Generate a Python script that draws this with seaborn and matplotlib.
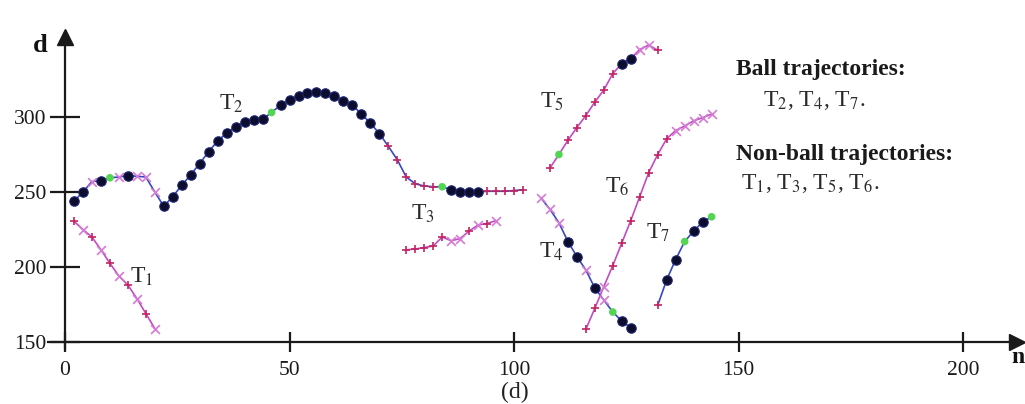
import matplotlib
matplotlib.use("Agg")
import matplotlib.pyplot as plt
import pandas as pd
import seaborn as sns

# Frame index n and distance d for every trajectory, plus a marker code per frame:
# o = ball candidate, x = rejected candidate, + = predicted position, g = recovered
t1_n = [2, 4, 6, 8, 10, 12, 14, 16, 18, 20]
t1_d = [230.5, 225, 220, 211.5, 202.5, 194, 188, 179, 169, 159]
t1_m = "+x+x+x+x+x"

t2_n = list(range(2, 103, 2))
t2_d = [244, 250, 257, 257.5, 259.5, 260, 261, 260.5, 260, 250,
        240.5, 247, 254.5, 261.5, 269, 277, 284, 289.5, 293.5, 297, 298, 298.5,
        303,
        308, 311.5, 314, 316, 316.5, 316, 314, 311, 308, 302, 296, 289,
        280.5, 271.5, 260, 255.5, 254, 253.5,
        253.5,
        251.5, 250, 250, 250,
        250.5, 250.5, 250.5, 251, 251.5]
t2_m = "ooxogxoxxx" + "o" * 12 + "g" + "o" * 12 + "+" * 6 + "g" + "o" * 4 + "+" * 5

t3_n = list(range(76, 97, 2))
t3_d = [211.5, 212, 213, 214, 220, 217.5, 219, 224, 228, 229, 231]
t3_m = "+++++xx+x+x"

t4_n = list(range(106, 127, 2))
t4_d = [246, 238.5, 229.5, 217, 207, 198, 186, 178, 170, 164, 159.5]
t4_m = "xxxooxoxgoo"

t5_n = list(range(108, 133, 2))
t5_d = [266, 275, 284.5, 293, 301, 310, 318, 329, 335.5, 339, 345, 348, 344.5]
t5_m = "+g++++++ooxx+"

t6_n = list(range(116, 145, 2))
t6_d = [158.5, 172.5, 187, 201, 216, 231, 247, 263, 275, 285.5, 291, 294, 297.5, 299.5, 302]
t6_m = "++x+++++++xxxxx"

t7_n = list(range(132, 145, 2))
t7_d = [174.5, 191.5, 205, 217, 224, 230, 233.5]
t7_m = "+oogoog"

ball = ["T2", "T4", "T7"]
label_pos = {"T1": (17.1, 193.5), "T2": (37.0, 309), "T3": (79.8, 235.5),
             "T4": (108.4, 210), "T5": (108.4, 310), "T6": (122.9, 253.5),
             "T7": (132.1, 222.5)}

x_ticks = [0, 50, 100, 150, 200]
y_ticks = [150, 200, 250, 300]

tracks = {
    "T1": (t1_n, t1_d, t1_m), "T2": (t2_n, t2_d, t2_m), "T3": (t3_n, t3_d, t3_m),
    "T4": (t4_n, t4_d, t4_m), "T5": (t5_n, t5_d, t5_m), "T6": (t6_n, t6_d, t6_m),
    "T7": (t7_n, t7_d, t7_m),
}
rows = []
for name, (ns, ds, ms) in tracks.items():
    for n, d, m in zip(ns, ds, ms):
        rows.append({"track": name, "n": n, "d": d, "mark": m,
                     "kind": "ball" if name in ball else "nonball"})
df = pd.DataFrame(rows)

sns.set_theme(style="white")
plt.rcParams["font.family"] = ["Liberation Serif", "DejaVu Serif"]
plt.rcParams["mathtext.fontset"] = "stix"

fig = plt.figure(figsize=(10.25, 4.04), dpi=100)
ax = fig.add_axes([0, 0, 1, 1])
ax.set_xlim(-14.48, 213.8)
ax.set_ylim(108.7, 378)

line_colors = {"ball": "#3848c0", "nonball": "#c04cc4"}
for name in tracks:
    sub = df[df["track"] == name]
    sns.lineplot(data=sub, x="n", y="d", ax=ax, color=line_colors[sub["kind"].iloc[0]],
                 lw=1.2, sort=False, estimator=None, legend=False, zorder=2)

sns.scatterplot(data=df[df["mark"] == "x"], x="n", y="d", ax=ax, marker="x",
                color="#d77ad6", s=40, linewidth=1.2, legend=False, zorder=3)
sns.scatterplot(data=df[df["mark"] == "+"], x="n", y="d", ax=ax, marker="+",
                color="#c3235e", s=40, linewidth=1.2, legend=False, zorder=3)
sns.scatterplot(data=df[df["mark"] == "o"], x="n", y="d", ax=ax, marker="o",
                color="#0c0c2c", edgecolor="#1c2470", s=46, linewidth=0.8,
                legend=False, zorder=4)
sns.scatterplot(data=df[df["mark"] == "g"], x="n", y="d", ax=ax, marker="o",
                color="#52d652", edgecolor="none", s=30, legend=False, zorder=4)

# Trajectory labels
for name, (lx, ly) in label_pos.items():
    ax.text(lx, ly, "T$_{%s}$" % name[1], fontsize=17, color="#2a2a2a",
            ha="center", va="center")

# Axes drawn as arrows crossing at (0, 150)
for side in ["top", "right"]:
    ax.spines[side].set_visible(False)
ax.spines["left"].set_position(("data", 0))
ax.spines["bottom"].set_position(("data", 150))
ax.spines["left"].set_bounds(146, 354)
ax.spines["bottom"].set_bounds(-3.8, 211)
for side in ["left", "bottom"]:
    ax.spines[side].set_linewidth(1.6)
    ax.spines[side].set_color("#1a1a1a")
ax.plot([0], [353.5], marker="^", ms=11, color="#1a1a1a", clip_on=False, zorder=5)
ax.plot([212], [150], marker=">", ms=11, color="#1a1a1a", clip_on=False, zorder=5)

ax.set_xticks(x_ticks)
ax.set_yticks(y_ticks)
ax.set_xticklabels([str(v) for v in x_ticks])
ax.set_yticklabels([str(v) for v in y_ticks])
ax.tick_params(axis="y", direction="inout", length=21, width=1.6, pad=3,
               labelsize=15.5, colors="#1a1a1a", left=True)
ax.tick_params(axis="x", direction="inout", length=14, width=1.6, pad=7,
               labelsize=15.5, colors="#1a1a1a", bottom=True)
ax.set_xlabel("")
ax.set_ylabel("")

ax.text(-5.6, 348, "d", fontsize=19, fontweight="bold", ha="center", va="center",
        color="#111111")
ax.text(213.7, 139.5, "n", fontsize=17, fontweight="bold", ha="right", va="center",
        color="#111111")
ax.text(100.2, 116.5, "(d)", fontsize=17, ha="center", va="center", color="#222222")

# Classification summary
ax.text(149.5, 332, "Ball trajectories:", fontsize=17, fontweight="bold",
        ha="left", va="center", color="#1a1a1a")
ax.text(155.5, 311, "T$_2$, T$_4$, T$_7$.", fontsize=17, ha="left", va="center",
        color="#2a2a2a")
ax.text(149.5, 275, "Non-ball trajectories:", fontsize=17, fontweight="bold",
        ha="left", va="center", color="#1a1a1a")
ax.text(150.5, 256, "T$_1$, T$_3$, T$_5$, T$_6$.", fontsize=17, ha="left",
        va="center", color="#2a2a2a")

fig.savefig("out.png", dpi=100, facecolor="white")
